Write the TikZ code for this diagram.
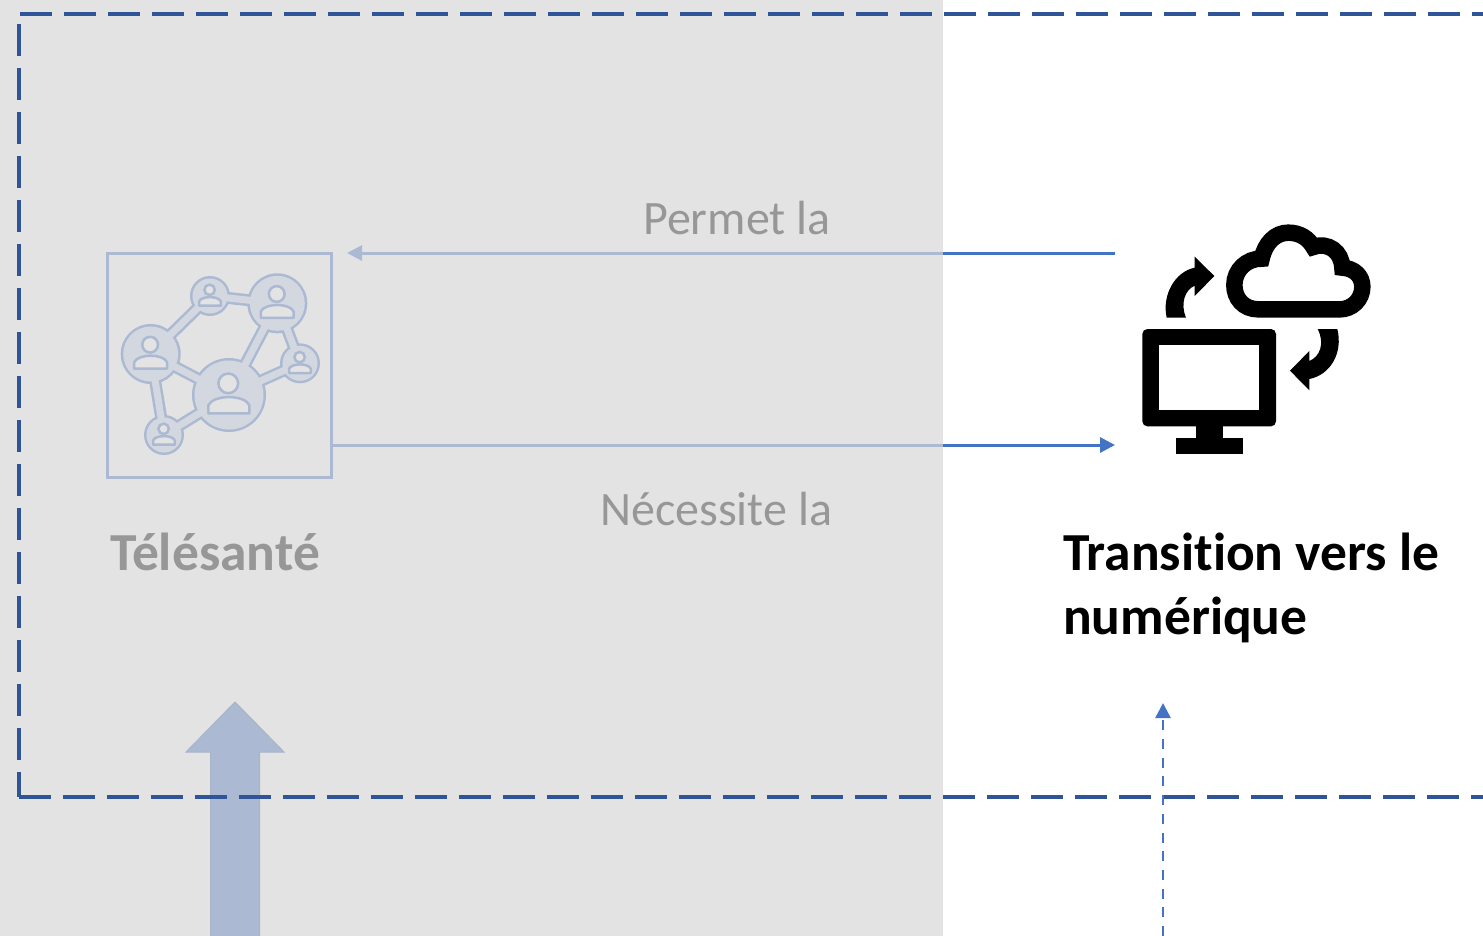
\documentclass[tikz,border=0pt]{standalone}
\usepackage{fontspec}
\setmainfont[Ligatures=NoCommon]{Carlito}
\usetikzlibrary{arrows.meta}
\definecolor{accent}{HTML}{4472C4}
\definecolor{framec}{HTML}{2F5597}
\definecolor{iconfill}{HTML}{C8D6F0}
\definecolor{veil}{HTML}{D8D8D8}
\tikzset{
  lbl/.style={font=\fontsize{48}{58}\selectfont,anchor=base west,inner sep=0pt,text=black},
  lblb/.style={font=\fontsize{53.5}{64}\selectfont\bfseries,anchor=base west,inner sep=0pt,text=black},
  thinarrow/.style={draw=accent,line width=3pt,-{Triangle[length=15pt,width=15pt]}},
  framedash/.style={draw=framec,line width=3.5pt,dash pattern=on 32pt off 12pt},
}
\newcommand{\zpt}[2]{({#1/3+1130},{#2/3+215})}
\begin{document}
\begin{tikzpicture}[x=1pt,y=-1pt]
\useasboundingbox (0,0) rectangle (1483,935);
\fill[white] (0,0) rectangle (1483,945);

% Fat arrow
\filldraw[fill=accent,draw=accent!85!black,line width=1pt]
  (210.5,950) -- (210.5,752) -- (186,752) -- (235,702) -- (284,752) -- (259.5,752) -- (259.5,950) -- cycle;

% Box and connector ends
\node[draw=accent,line width=3pt,minimum width=224pt,minimum height=224pt,inner sep=0pt,outer sep=0pt,anchor=north west] (tele) at (107,253) {};
\coordinate (iconTop) at (1115,253);
\coordinate (iconBot) at (1115,445);
\coordinate (teleTop) at (347,253);
\coordinate (teleRight) at (tele.east |- iconBot);
\draw[thinarrow] (iconTop) -- (teleTop);
\draw[thinarrow] (teleRight) -- (iconBot);

% Network icon
\coordinate (A) at (150.7,354);
\coordinate (B) at (210,296);
\coordinate (C) at (277.3,303.3);
\coordinate (D) at (300,363.3);
\coordinate (E) at (229,395);
\coordinate (F) at (164,435);
\foreach \p/\q in {A/B,B/C,A/E,C/E,C/D,D/E,A/F,F/E}
  \draw[accent,line width=12pt] (\p) -- (\q);
\foreach \p/\r in {A/30,B/20,C/30,D/20,E/37,F/20}
  \fill[accent] (\p) circle[radius=\r];
\foreach \p/\q in {A/B,B/C,A/E,C/E,C/D,D/E,A/F,F/E}
  \draw[iconfill,line width=7pt] (\p) -- (\q);
\foreach \p/\r in {A/27.5,B/17.5,C/27.5,D/17.5,E/34.5,F/17.5}
  \fill[iconfill] (\p) circle[radius=\r];
\foreach \p/\s in {A/0.8,B/0.53,C/0.8,D/0.53,E/1,F/0.53}{
  \begin{scope}[shift={(\p)},x=\s*12pt,y=-\s*12pt]
    \draw[accent,line width=2.5pt,fill=white] (-0.06,-0.97) circle[radius=0.82];
    \draw[accent,line width=2.5pt,line join=round,fill=white]
      (-1.72,1.53) -- (-1.72,0.85) .. controls (-1.3,-0.05) and (1.3,-0.05) .. (1.7,0.85) -- (1.7,1.53) -- cycle;
  \end{scope}
}

% Labels under the veil
\node[lbl] (permet) at (643,234) {Permet la};
\node[lbl] (necess) at (600,525.5) {Nécessite la};
\node[lblb] (tlabel) at (110,570) {Télésanté};

% Grey overlay
\fill[veil,fill opacity=0.7] (0,0) rectangle (943,955);

% Dashed frame
\draw[framedash] (20,14) -- (1490,14);
\draw[framedash] (19,24) -- (19,797);
\draw[framedash] (19,797) -- (1490,797);

% Right labels
\node[lblb] (t1) at (1063,570) {Transition vers le};
\node[lblb] (t2) at (1063,634) {numérique};

% Dashed vertical arrow
\coordinate (dashStart) at (1163,936);
\coordinate (dashEnd) at (1163,703);
\draw[draw=accent,line width=2.5pt,dash pattern=on 10pt off 8.7pt,-{Triangle[length=15pt,width=15pt]}] (dashStart) -- (dashEnd);

% Monitor
\fill[black,rounded corners=5pt] \zpt{37}{342} rectangle \zpt{438}{634};
\fill[white] \zpt{87}{391} rectangle \zpt{388}{584};
\fill[black] \zpt{197}{630} rectangle \zpt{280}{668};
\fill[black] \zpt{138}{668} rectangle \zpt{338}{718};
% Cloud
\draw[black,line width=16.5pt,line join=miter,fill=white]
  \zpt{385}{283} .. controls \zpt{340}{283} and \zpt{313}{250} .. \zpt{313}{210}
  .. controls \zpt{313}{165} and \zpt{350}{130} .. \zpt{395}{131}
  .. controls \zpt{405}{85} and \zpt{435}{53} .. \zpt{475}{53}
  .. controls \zpt{510}{53} and \zpt{535}{70} .. \zpt{550}{96}
  .. controls \zpt{595}{80} and \zpt{635}{110} .. \zpt{637}{158}
  .. controls \zpt{675}{160} and \zpt{697}{185} .. \zpt{697}{215}
  .. controls \zpt{697}{255} and \zpt{665}{283} .. \zpt{630}{283} -- cycle;
% Sync arrows
\fill[black] \zpt{110}{308} .. controls \zpt{95}{240} and \zpt{135}{170} .. \zpt{194}{158}
  -- \zpt{194}{125} -- \zpt{253}{183} -- \zpt{194}{243} -- \zpt{194}{212}
  .. controls \zpt{165}{225} and \zpt{150}{265} .. \zpt{168}{308} -- cycle;
\fill[black] \zpt{563}{342} .. controls \zpt{585}{385} and \zpt{570}{425} .. \zpt{538}{438}
  -- \zpt{538}{408} -- \zpt{480}{467} -- \zpt{538}{526} -- \zpt{538}{492}
  .. controls \zpt{600}{480} and \zpt{640}{415} .. \zpt{622}{342} -- cycle;
\end{tikzpicture}
\end{document}
